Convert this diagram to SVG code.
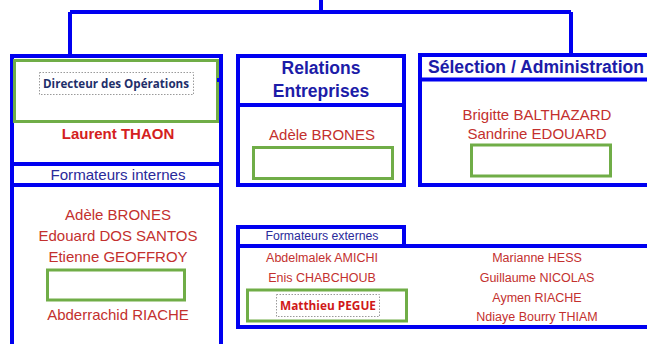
<svg xmlns="http://www.w3.org/2000/svg" width="647" height="344" viewBox="0 0 647 344">
<style>
.box{fill:none;stroke:#0000f0;stroke-width:4}
.ln{stroke:#0000f0;stroke-width:4;fill:none}
.grn{fill:#fff;stroke:#70ad47;stroke-width:3}
.dot{fill:none;stroke:#9a9a9a;stroke-width:1;stroke-dasharray:1.5,1.5}
.hd{font-family:"Liberation Sans",Arial,sans-serif;font-weight:bold;fill:#1c1ca8;text-anchor:middle}
.sub{font-family:"Liberation Sans",Arial,sans-serif;fill:#2a2a9a;text-anchor:middle}
.nm{font-family:"Liberation Sans",Arial,sans-serif;fill:#c3302e;text-anchor:middle}
.cal{font-family:"Open Sans","Noto Sans",sans-serif;font-weight:bold;text-anchor:middle}
</style>
<rect width="647" height="344" fill="#fff"/>
<g id="connectors">
<path class="ln" d="M321,0 V12 M70,12 H571 M70,12 V56 M571,12 V56"/>
</g>
<g id="direction">
<rect class="box" x="12" y="56" width="209" height="300"/>
<path class="ln" d="M12,164 H221 M12,185 H221"/>
<rect class="grn" x="14.5" y="60.5" width="203" height="61"/>
<rect x="217" y="78" width="5" height="4" fill="#0000f0"/>
<rect class="dot" x="39.5" y="72.5" width="154" height="22"/>
<text class="cal" x="116" y="88" font-size="11.5" fill="#1f2f6a" textLength="146" lengthAdjust="spacingAndGlyphs">Directeur des Opérations</text>
<text class="nm" x="118" y="139" font-size="15" font-weight="bold" style="fill:#d42020">Laurent THAON</text>
<text class="sub" x="118" y="180" font-size="14.5" textLength="135" lengthAdjust="spacingAndGlyphs">Formateurs internes</text>
<text class="nm" x="118" y="220" font-size="15">Adèle BRONES</text>
<text class="nm" x="118" y="241" font-size="15">Edouard DOS SANTOS</text>
<text class="nm" x="118" y="262" font-size="15">Etienne GEOFFROY</text>
<rect class="grn" x="47.5" y="270" width="137" height="30"/>
<text class="nm" x="118" y="320" font-size="15">Abderrachid RIACHE</text>
</g>
<g id="relations">
<rect class="box" x="238" y="56" width="166" height="129"/>
<path class="ln" d="M238,105 H404"/>
<text class="hd" x="321" y="74" font-size="17.5">Relations</text>
<text class="hd" x="321" y="97" font-size="17.5">Entreprises</text>
<text class="nm" x="322" y="140" font-size="15">Adèle BRONES</text>
<rect class="grn" x="253.5" y="147.5" width="139" height="31"/>
</g>
<g id="selection">
<rect class="box" x="420" y="55" width="240" height="130"/>
<path class="ln" d="M420,79.5 H660"/>
<text class="hd" x="428" y="73" font-size="17.5" style="text-anchor:start" textLength="216" lengthAdjust="spacingAndGlyphs">Sélection / Administration</text>
<text class="nm" x="537" y="120" font-size="15">Brigitte BALTHAZARD</text>
<text class="nm" x="537" y="139" font-size="15">Sandrine EDOUARD</text>
<rect class="grn" x="471.5" y="145" width="139" height="31"/>
</g>
<g id="externes">
<rect class="box" x="238" y="227" width="166" height="19"/>
<rect class="box" x="238" y="246" width="420" height="81"/>
<text class="sub" x="322" y="240" font-size="12" textLength="113" lengthAdjust="spacingAndGlyphs">Formateurs externes</text>
<text class="nm" x="322" y="262" font-size="12.5">Abdelmalek AMICHI</text>
<text class="nm" x="322" y="282" font-size="12.5">Enis CHABCHOUB</text>
<rect class="grn" x="247.5" y="290" width="159" height="31"/>
<rect class="dot" x="276.5" y="294.5" width="103" height="22"/>
<text class="cal" x="328" y="310" font-size="12" fill="#d01818" textLength="96" lengthAdjust="spacingAndGlyphs">Matthieu PEGUE</text>
<text class="nm" x="537" y="262" font-size="12.5">Marianne HESS</text>
<text class="nm" x="537" y="282" font-size="12.5">Guillaume NICOLAS</text>
<text class="nm" x="537" y="302" font-size="12.5">Aymen RIACHE</text>
<text class="nm" x="537" y="321" font-size="12.5">Ndiaye Bourry THIAM</text>
</g>
</svg>
